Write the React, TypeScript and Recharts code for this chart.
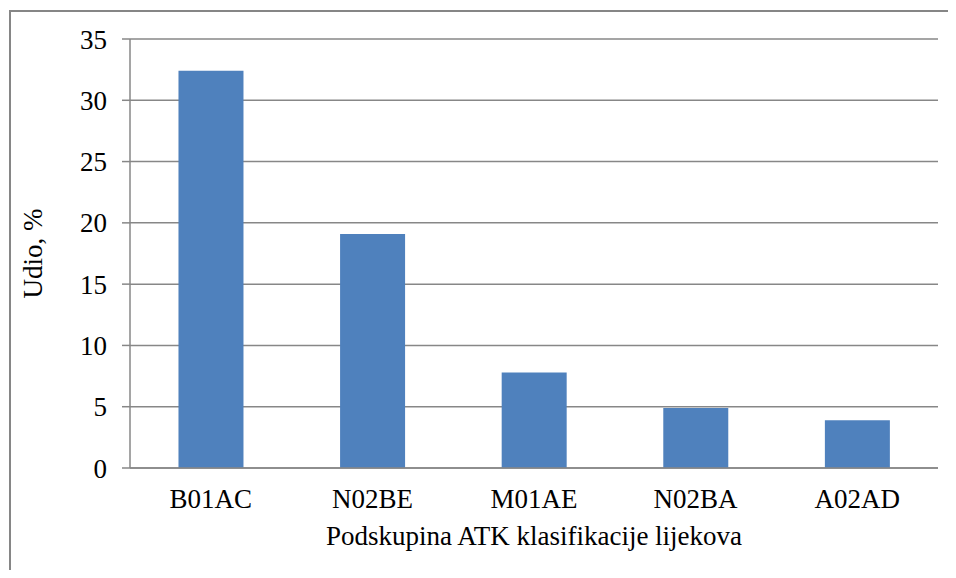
import { Bar, BarChart, CartesianGrid, Label, XAxis, YAxis } from "recharts";

const categories = ["B01AC", "N02BE", "M01AE", "N02BA", "A02AD"];
const shares = [32.4, 19.1, 7.8, 4.9, 3.9];
const yTicks = [0, 5, 10, 15, 20, 25, 30, 35];

const data = categories.map((code, i) => ({ code, share: shares[i] }));

const font = "Liberation Serif";
const gridColor = "#878787";
const textStyle = { fill: "#000000", fontSize: 27, fontFamily: font };

export default function App() {
  return (
    <div
      style={{
        position: "relative",
        width: 956,
        height: 578,
        margin: -8,
        background: "#ffffff",
        overflow: "hidden",
      }}
    >
      {/* outer frame, only the top and left edges fall inside the picture */}
      <div
        style={{
          position: "absolute",
          left: 9,
          top: 10,
          width: 1000,
          height: 1000,
          borderLeft: "2px solid #868686",
          borderTop: "2px solid #868686",
        }}
      />
      <div style={{ position: "absolute", left: 0, top: 0 }}>
        <BarChart
          width={956}
          height={578}
          data={data}
          barCategoryGap="30%"
          margin={{ top: 39, right: 18, bottom: 0, left: 0 }}
        >
          <CartesianGrid vertical={false} stroke={gridColor} strokeWidth={1.5} />
          <XAxis
            dataKey="code"
            height={110}
            tickLine={false}
            tickSize={0}
            tickMargin={21}
            axisLine={{ stroke: gridColor, strokeWidth: 1.5 }}
            tick={textStyle}
          >
            <Label
              value="Podskupina ATK klasifikacije lijekova"
              position="insideTop"
              offset={58}
              fill="#000000"
              fontSize={27}
              fontFamily={font}
            />
          </XAxis>
          <YAxis
            width={130}
            domain={[0, 35]}
            ticks={yTicks}
            interval={0}
            tickSize={8}
            tickMargin={15}
            axisLine={{ stroke: gridColor, strokeWidth: 1.5 }}
            tickLine={{ stroke: gridColor, strokeWidth: 1.5 }}
            tick={textStyle}
          >
            <Label
              content={({ viewBox }: any) => (
                <text
                  x={33}
                  y={viewBox.y + viewBox.height / 2}
                  transform={`rotate(-90, 33, ${viewBox.y + viewBox.height / 2})`}
                  textAnchor="middle"
                  dominantBaseline="central"
                  fill="#000000"
                  fontSize={27}
                  fontFamily={font}
                >
                  Udio, %
                </text>
              )}
            />
          </YAxis>
          <Bar dataKey="share" fill="#4f81bd" isAnimationActive={false} />
        </BarChart>
      </div>
    </div>
  );
}
